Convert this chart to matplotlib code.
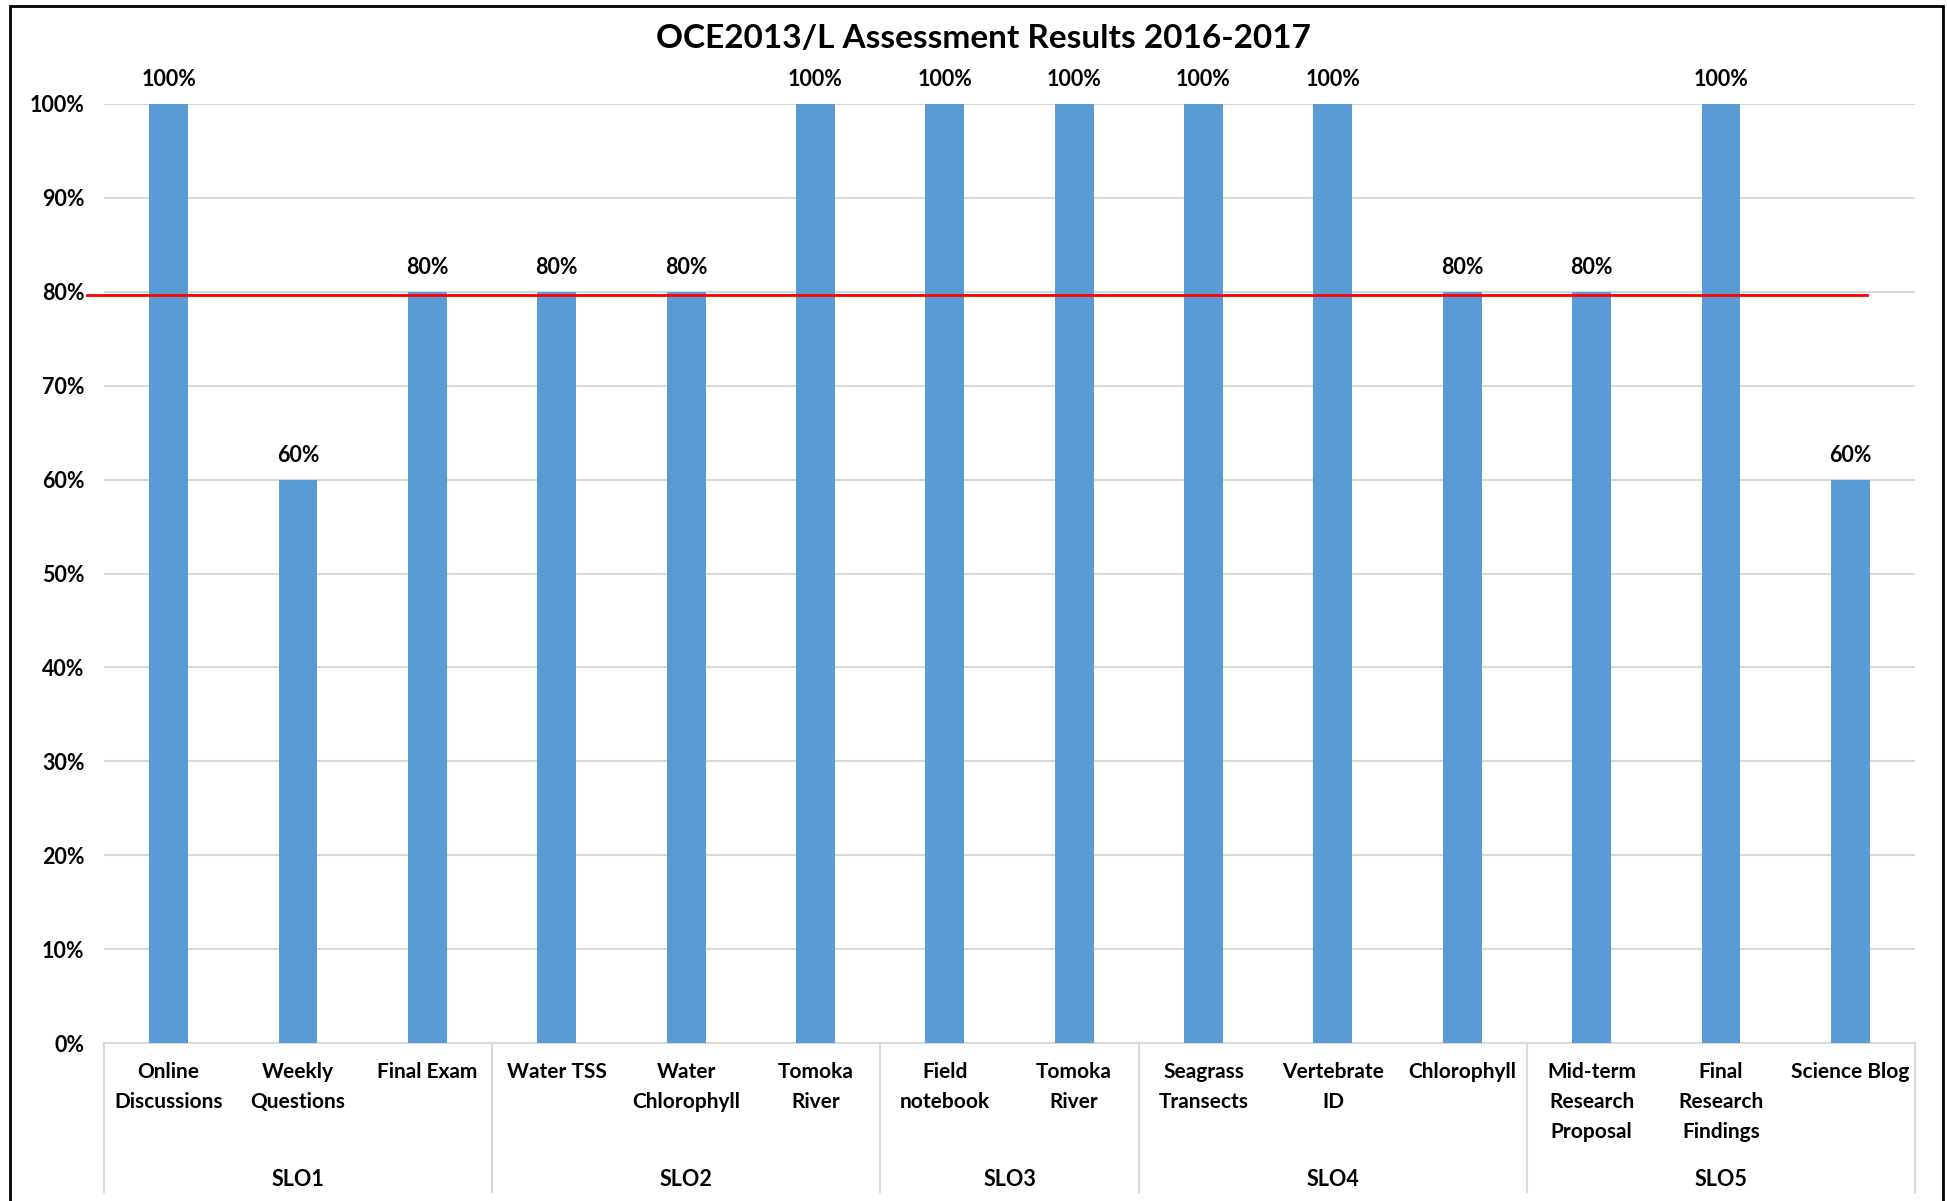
import matplotlib
matplotlib.use("Agg")
import matplotlib.pyplot as plt
from matplotlib.patches import Rectangle
import numpy as np

plt.rcParams["font.family"] = ["Lato", "DejaVu Sans"]

TITLE = "OCE2013/L Assessment Results 2016-2017"
CATEGORIES = ["Online\nDiscussions", "Weekly\nQuestions", "Final Exam",
              "Water TSS", "Water\nChlorophyll", "Tomoka\nRiver",
              "Field\nnotebook", "Tomoka\nRiver",
              "Seagrass\nTransects", "Vertebrate\nID", "Chlorophyll",
              "Mid-term\nResearch\nProposal", "Final\nResearch\nFindings", "Science Blog"]
VALUES = [1.0, 0.6, 0.8, 0.8, 0.8, 1.0, 1.0, 1.0, 1.0, 1.0, 0.8, 0.8, 1.0, 0.6]
GROUPS = ["SLO1", "SLO2", "SLO3", "SLO4", "SLO5"]
GROUP_SIZES = [3, 3, 2, 3, 3]
TARGET = 0.797
YTICKS = np.arange(0, 1.01, 0.1)

W, H = 1947, 1201
fig = plt.figure(figsize=(W / 100, H / 100), dpi=100)
fig.patch.set_facecolor("white")

# outer border of the chart area
fig.patches.append(Rectangle((10 / W, -0.05), (1943 - 10) / W, 1.05 - 6 / H,
                             transform=fig.transFigure, fill=False,
                             edgecolor="black", linewidth=2))

left, right, top, bottom = 104, 1915, 104, 1043
ax = fig.add_axes([left / W, 1 - bottom / H, (right - left) / W, (bottom - top) / H])

x = np.arange(len(VALUES))
ax.bar(x, VALUES, width=0.30, color="#5B9BD5", zorder=3)
ax.set_xlim(-0.5, len(VALUES) - 0.5)
ax.set_ylim(0, 1.0)

for xi, v in zip(x, VALUES):
    ax.annotate(f"{v:.0%}", (xi, v), xytext=(0, 17.5), textcoords="offset points",
                ha="center", va="center", fontsize=15.5, fontweight="bold")

ax.set_yticks(YTICKS)
ax.set_yticklabels([f"{t:.0%}" for t in YTICKS], fontsize=15.5, fontweight="bold")
ax.tick_params(axis="y", length=0, pad=14)
ax.grid(axis="y", color="#D9D9D9", linewidth=1.5, zorder=0)
ax.set_axisbelow(True)

ax.set_xticks(x)
ax.set_xticklabels(CATEGORIES, fontsize=15, fontweight="bold", va="top", linespacing=1.62)
ax.tick_params(axis="x", length=0, pad=14)

for s in ["top", "right", "left"]:
    ax.spines[s].set_visible(False)
ax.spines["bottom"].set_color("#D9D9D9")
ax.spines["bottom"].set_linewidth(1.5)

# group separators and group labels
xt = ax.get_xaxis_transform()
sep_bottom = (bottom - 1192) / (bottom - top)
bounds = np.concatenate([[0], np.cumsum(GROUP_SIZES)]) - 0.5
for b in bounds:
    ax.plot([b, b], [0, sep_bottom], transform=xt, color="#D9D9D9",
            linewidth=1.5, clip_on=False)
for g, lo, hi in zip(GROUPS, bounds[:-1], bounds[1:]):
    ax.text((lo + hi) / 2, (bottom - 1179) / (bottom - top), g, transform=xt,
            ha="center", va="center", fontsize=15.5, fontweight="bold")

# target line
ax.plot([(87 - left) / (right - left), (1867 - left) / (right - left)], [TARGET, TARGET],
        transform=ax.get_yaxis_transform(), color="red", linewidth=2,
        clip_on=False, zorder=4)

fig.text(983 / W, 1 - 38 / H, TITLE, ha="center", va="center",
         fontsize=24, fontweight="bold")

fig.savefig("out.png", dpi=100)
